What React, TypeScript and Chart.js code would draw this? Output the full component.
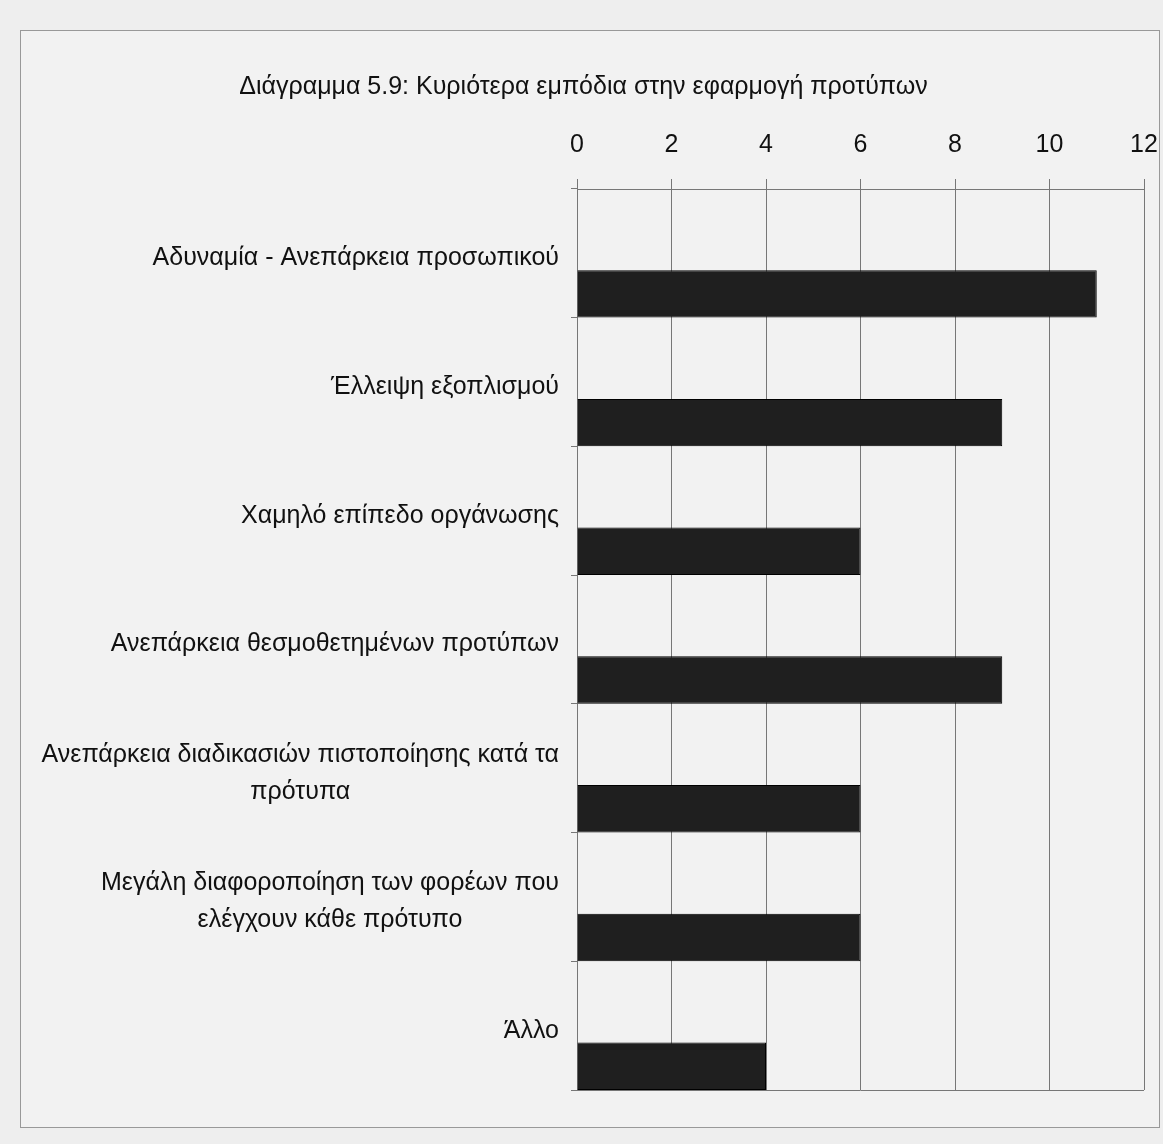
import React, { useEffect, useRef } from 'react';
import { Chart, registerables } from 'chart.js';

Chart.register(...registerables);

const chartTitle = 'Διάγραμμα 5.9: Κυριότερα εμπόδια στην εφαρμογή προτύπων';
const categories: string[][] = [
  ['Αδυναμία - Ανεπάρκεια προσωπικού'],
  ['Έλλειψη εξοπλισμού'],
  ['Χαμηλό επίπεδο οργάνωσης'],
  ['Ανεπάρκεια θεσμοθετημένων προτύπων'],
  ['Ανεπάρκεια διαδικασιών πιστοποίησης κατά τα', 'πρότυπα'],
  ['Μεγάλη διαφοροποίηση των φορέων που', 'ελέγχουν κάθε πρότυπο'],
  ['Άλλο'],
];
const values = [11, 9, 6, 9, 6, 6, 4];
const xMin = 0;
const xMax = 12;
const xStep = 2;

const FONT = '"Liberation Sans", Arial, sans-serif';

const labelPlugin = {
  id: 'catLabels',
  afterDraw(chart: any) {
    const { ctx, chartArea, scales } = chart;
    const yScale = scales.y;
    ctx.save();
    // bottom border of plot
    ctx.strokeStyle = '#777';
    ctx.lineWidth = 1;
    ctx.beginPath();
    ctx.moveTo(chartArea.left, Math.round(chartArea.bottom) + 0.5);
    ctx.lineTo(chartArea.right, Math.round(chartArea.bottom) + 0.5);
    ctx.stroke();

    ctx.font = '25px ' + FONT;
    ctx.fillStyle = '#111';
    ctx.textBaseline = 'middle';
    ctx.textAlign = 'center';
    const right = chartArea.left - 18;
    const lh = 37;
    categories.forEach((lines, i) => {
      const cy = yScale.getPixelForValue(i) + 5;
      const w = Math.max(...lines.map((l) => ctx.measureText(l).width));
      const cx = right - w / 2;
      lines.forEach((l, j) => {
        ctx.fillText(l, cx, cy + (j - (lines.length - 1) / 2) * lh);
      });
    });
    ctx.restore();
  },
};

export default function App() {
  const ref = useRef<HTMLCanvasElement | null>(null);

  useEffect(() => {
    document.body.style.margin = '0';
    const canvas = ref.current;
    if (!canvas) return;
    const chart = new Chart(canvas, {
      type: 'bar',
      data: {
        labels: categories.map((c) => c.join(' ')),
        datasets: [
          {
            label: 'spacer',
            data: categories.map(() => null),
            categoryPercentage: 1.26,
            barPercentage: 0.585,
          },
          {
            label: 'Εμπόδια',
            data: values,
            backgroundColor: '#1f1f1f',
            borderColor: '#000',
            borderWidth: 1,
            categoryPercentage: 1.26,
            barPercentage: 0.585,
          },
        ],
      },
      options: {
        indexAxis: 'y',
        responsive: false,
        animation: false,
        devicePixelRatio: 1,
        layout: { padding: { left: 0, right: 17, bottom: 37, top: 0 } },
        plugins: {
          legend: { display: false },
          tooltip: { enabled: false },
          title: {
            display: true,
            text: chartTitle,
            color: '#111',
            font: { family: FONT, size: 25, weight: 'normal' },
            padding: { top: 41, bottom: 9 },
          },
        },
        scales: {
          x: {
            position: 'top',
            min: xMin,
            max: xMax,
            ticks: {
              stepSize: xStep,
              color: '#111',
              font: { family: FONT, size: 25, lineHeight: 2.72 },
              padding: 0,
            },
            grid: { color: '#777', lineWidth: 1, tickLength: 10 },
            border: { display: true, color: '#777' },
          },
          y: {
            type: 'category',
            afterFit: (scale: any) => {
              scale.width = 554;
            },
            ticks: { display: false },
            grid: {
              display: true,
              drawOnChartArea: false,
              color: '#777',
              tickLength: 6,
              offset: true,
            },
            border: { display: true, color: '#777' },
          },
        },
      },
      plugins: [labelPlugin],
    });
    return () => chart.destroy();
  }, []);

  return (
    <div style={{ position: 'relative', width: 1163, height: 1144, background: '#eeeeee', overflow: 'hidden' }}>
      <div
        style={{
          position: 'absolute',
          left: 20,
          top: 30,
          width: 1140,
          height: 1098,
          boxSizing: 'border-box',
          border: '1px solid #999',
          background: '#f2f2f2',
        }}
      >
        <canvas ref={ref} width={1138} height={1096} style={{ display: 'block', marginLeft: 2 }} />
      </div>
    </div>
  );
}
